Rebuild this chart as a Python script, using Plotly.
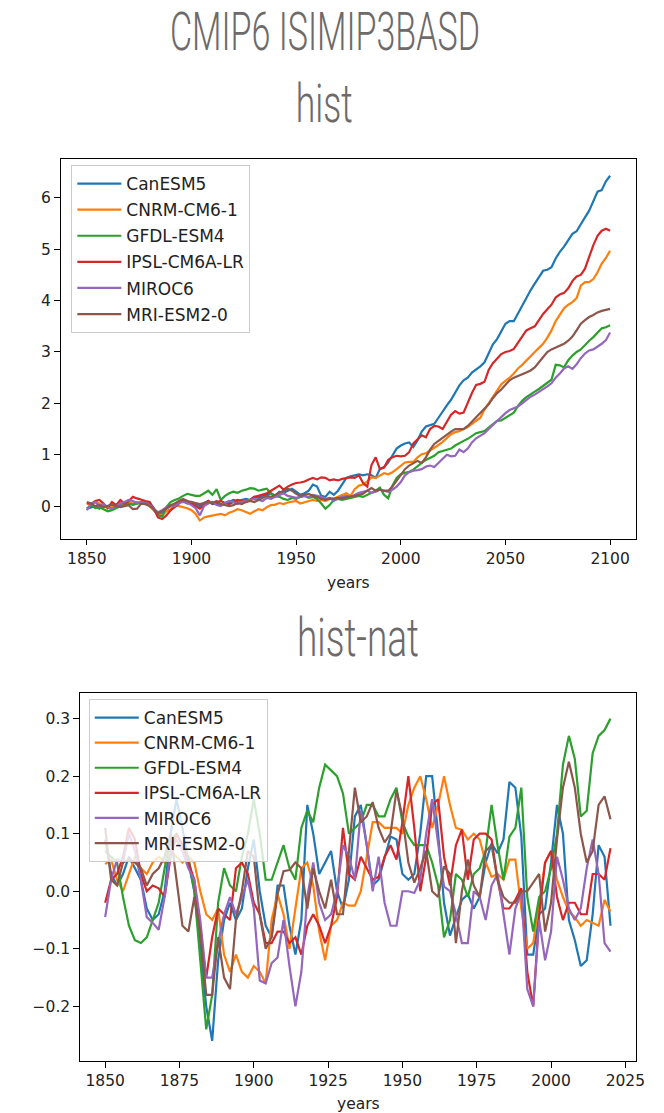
import plotly.graph_objects as go

# ---------------------------------------------------------------------------
# Data: global mean temperature anomaly per model (2-year sampling)
# ---------------------------------------------------------------------------
MODELS = ["CanESM5", "CNRM-CM6-1", "GFDL-ESM4", "IPSL-CM6A-LR", "MIROC6", "MRI-ESM2-0"]
COLORS = ["#1f77b4", "#ff7f0e", "#2ca02c", "#d62728", "#9467bd", "#8c564b"]

hist_years = list(range(1850, 2101, 2))

hist_canesm5 = [
    -0.05, -0.02, 0.0, -0.05, 0.02,
    -0.02, -0.06, -0.03, 0.02, 0.05,
    0.06, 0.03, 0.06, 0.08, 0.06,
    0.02, -0.08, -0.16, -0.12, -0.05,
    0.0, 0.04, 0.08, 0.1, 0.05,
    0.08, 0.04, 0.0, 0.06, 0.1,
    0.04, 0.05, 0.02, 0.06, 0.08,
    0.12, 0.1, 0.12, 0.14, 0.12,
    0.18, 0.16, 0.2, 0.22, 0.25,
    0.2, 0.28, 0.26, 0.3, 0.34,
    0.28, 0.22, 0.25, 0.3, 0.42,
    0.38, 0.2, 0.18, 0.28, 0.22,
    0.3, 0.42, 0.55, 0.58, 0.6,
    0.62, 0.6, 0.62, 0.6, 0.55,
    0.72, 0.76, 0.85, 1.0, 1.12,
    1.18, 1.22, 1.24, 1.15, 1.28,
    1.45, 1.55, 1.58, 1.6, 1.72,
    1.85, 1.96, 2.07, 2.2, 2.35,
    2.45, 2.5, 2.6, 2.66, 2.72,
    2.8, 2.98, 3.15, 3.25, 3.4,
    3.55, 3.6, 3.6, 3.75, 3.9,
    4.07, 4.2, 4.33, 4.45, 4.58,
    4.6, 4.65, 4.82, 4.95, 5.05,
    5.18, 5.3, 5.35, 5.5, 5.62,
    5.75, 5.95, 6.12, 6.15, 6.32,
    6.43,
]
hist_cnrm = [
    0.05, 0.02, 0.08, 0.05, 0.0,
    -0.04, -0.02, 0.03, 0.06, 0.04,
    0.08, 0.05, 0.08, 0.05, 0.04,
    0.0, -0.08, -0.15, -0.18, -0.1,
    -0.06, 0.02, 0.0, -0.02, -0.04,
    -0.08, -0.15, -0.28, -0.22, -0.2,
    -0.18, -0.17, -0.15, -0.18, -0.13,
    -0.1, -0.06, -0.08, -0.12, -0.15,
    -0.1, -0.06, -0.08, -0.02, 0.02,
    0.03, 0.06, 0.04, 0.07, 0.08,
    0.1, 0.05, 0.08, 0.1, 0.12,
    0.1, 0.12, 0.1, 0.14, 0.15,
    0.18, 0.22, 0.25, 0.2, 0.33,
    0.4, 0.42, 0.48, 0.56, 0.55,
    0.6, 0.64, 0.62, 0.66, 0.72,
    0.78, 0.85, 0.86, 0.86, 0.95,
    1.01, 1.03, 1.08, 1.14, 1.19,
    1.25, 1.33, 1.4, 1.44, 1.46,
    1.5, 1.54, 1.6, 1.66, 1.72,
    1.88, 2.0, 2.14, 2.26, 2.37,
    2.44, 2.5, 2.58, 2.68, 2.75,
    2.84, 2.92, 3.0, 3.08, 3.16,
    3.28, 3.42, 3.6, 3.72, 3.85,
    3.92, 3.97, 4.05, 4.29, 4.36,
    4.36, 4.42, 4.55, 4.72, 4.83,
    4.97,
]
hist_gfdl = [
    -0.05, 0.02, -0.04, -0.02, -0.06,
    -0.1, -0.08, -0.04, 0.0, 0.02,
    0.05, 0.03, 0.05, 0.06, 0.08,
    0.05, -0.04, -0.18, -0.2, -0.02,
    0.08, 0.12, 0.15, 0.2, 0.24,
    0.22, 0.2, 0.2, 0.25, 0.3,
    0.22, 0.33, 0.12, 0.2, 0.25,
    0.28, 0.26, 0.3, 0.32, 0.35,
    0.34, 0.3, 0.32, 0.34, 0.24,
    0.2, 0.18, 0.14, 0.12, 0.16,
    0.14, 0.18, 0.2, 0.16, 0.18,
    0.14, 0.05, -0.05, 0.02, 0.12,
    0.14, 0.12, 0.14, 0.16, 0.18,
    0.2, 0.18, 0.22, 0.25, 0.3,
    0.36, 0.22, 0.15, 0.4, 0.55,
    0.62, 0.65, 0.67, 0.71, 0.78,
    0.84, 0.9, 0.94, 0.98, 1.05,
    1.07, 1.09, 1.12, 1.18, 1.23,
    1.27, 1.31, 1.36, 1.42, 1.44,
    1.46, 1.53, 1.6, 1.66, 1.67,
    1.72, 1.77, 1.82, 1.95, 2.05,
    2.12, 2.18, 2.23, 2.28, 2.34,
    2.4, 2.46, 2.75, 2.74, 2.7,
    2.84, 2.93, 3.0, 3.05, 3.14,
    3.22, 3.29, 3.37, 3.46, 3.48,
    3.52,
]
hist_ipsl = [
    0.06, 0.04, 0.1, 0.12, 0.05,
    -0.04, 0.08, 0.02, 0.12, 0.05,
    0.1, 0.18, 0.15, 0.12, 0.1,
    0.08, -0.05, -0.22, -0.25, -0.18,
    -0.08, -0.02, 0.05, 0.12, 0.1,
    0.05, 0.0, -0.05, 0.02, 0.1,
    0.05, 0.08, 0.1, 0.06, 0.04,
    0.08, 0.12, 0.1, 0.08, 0.12,
    0.18, 0.2, 0.22, 0.25, 0.3,
    0.35, 0.4, 0.32, 0.38, 0.42,
    0.45, 0.46, 0.48, 0.52, 0.55,
    0.52, 0.56, 0.55, 0.5, 0.52,
    0.5, 0.53, 0.55, 0.56, 0.55,
    0.6, 0.45, 0.38, 0.8, 0.95,
    0.72, 0.75, 0.9, 0.95, 0.98,
    0.97, 0.98, 1.05, 1.22, 1.3,
    1.38, 1.34, 1.5, 1.56, 1.55,
    1.5, 1.65, 1.78, 1.85, 1.8,
    1.82, 2.02, 2.2, 2.36, 2.38,
    2.42, 2.65, 2.78, 2.88, 2.96,
    3.0, 3.02, 3.06, 3.18, 3.3,
    3.42, 3.46, 3.5, 3.62, 3.74,
    3.83, 3.92, 4.06, 4.12, 4.15,
    4.24, 4.38, 4.47, 4.5, 4.62,
    4.85, 5.08, 5.26, 5.36, 5.4,
    5.36,
]
hist_miroc6 = [
    -0.08, 0.05, 0.08, 0.0, 0.04,
    -0.02, -0.05, 0.0, 0.05, 0.08,
    0.12, 0.1, 0.06, 0.08, 0.06,
    0.02, -0.05, -0.12, -0.08, -0.02,
    0.02, 0.0, 0.06, 0.08, 0.06,
    0.02, -0.04, -0.18, 0.0, 0.05,
    0.08, 0.02, 0.0, 0.06, 0.1,
    0.08, 0.04, 0.08, 0.1, 0.12,
    0.14, 0.12, 0.1, 0.16, 0.14,
    0.18, 0.22, 0.25, 0.2, 0.18,
    0.16, 0.18, 0.2, 0.18, 0.22,
    0.2, 0.18, 0.14, 0.16, 0.1,
    0.15, 0.18, 0.2, 0.18, 0.22,
    0.26, 0.28, 0.3, 0.26, 0.28,
    0.32, 0.3, 0.28, 0.32, 0.38,
    0.47, 0.6, 0.66, 0.69, 0.7,
    0.72, 0.77, 0.79, 0.76, 0.84,
    0.92, 1.0, 0.97, 0.98, 1.1,
    1.05, 1.12, 1.24, 1.32, 1.37,
    1.42, 1.5, 1.58, 1.66, 1.73,
    1.81, 1.87, 1.9, 1.94, 2.0,
    2.06, 2.13, 2.17, 2.22, 2.28,
    2.33, 2.39, 2.5, 2.58, 2.68,
    2.72, 2.67, 2.76, 2.88, 2.97,
    3.03, 3.05, 3.1, 3.16, 3.23,
    3.38,
]
hist_mri = [
    0.08, 0.05, 0.0, 0.02, -0.02,
    0.0, 0.03, 0.0, -0.02, 0.0,
    0.02, -0.06, -0.05, 0.05, 0.04,
    0.0, -0.06, -0.14, -0.1, -0.05,
    0.02, 0.05, 0.1, 0.14, 0.1,
    0.08, 0.05, 0.04, 0.06, 0.08,
    0.06, 0.1, 0.04, 0.02, 0.0,
    0.02, 0.06, 0.04, 0.08, 0.1,
    0.08, 0.12, 0.16, 0.2, 0.18,
    0.22, 0.25, 0.3, 0.34, 0.3,
    0.24, 0.2, 0.22, 0.24, 0.2,
    0.18, 0.14, 0.12, 0.15, 0.14,
    0.16, 0.15, 0.17, 0.18, 0.2,
    0.22, 0.24, 0.3, 0.35, 0.3,
    0.32, 0.3, 0.3, 0.38, 0.5,
    0.62, 0.72, 0.79, 0.84, 0.88,
    0.84, 0.95, 1.1, 1.21, 1.27,
    1.33, 1.4, 1.45, 1.5, 1.5,
    1.5, 1.56, 1.64, 1.74, 1.82,
    1.88, 1.98, 2.1, 2.2, 2.27,
    2.37, 2.45, 2.5, 2.53, 2.56,
    2.6, 2.64, 2.7, 2.8, 2.9,
    3.0, 3.05, 3.09, 3.12, 3.16,
    3.22, 3.3, 3.42, 3.55, 3.62,
    3.68, 3.72, 3.77, 3.8, 3.82,
    3.84,
]

nat_years = list(range(1850, 2021, 2))

nat_canesm5 = [
    0.09, 0.03, 0.01, 0.03, 0.06,
    0.04, 0.02, -0.03, -0.05, -0.04,
    0.0, 0.1, 0.16, 0.11, 0.05,
    0.0, -0.1, -0.2, -0.26, -0.12,
    -0.05, -0.02, -0.05, -0.03, 0.04,
    0.09, 0.0, -0.06, -0.08, 0.01,
    0.01, -0.06, -0.11, -0.05, 0.15,
    0.1, 0.03, 0.05, 0.07, 0.0,
    -0.03, 0.02, 0.13, 0.15, 0.08,
    0.01, 0.02, 0.06, 0.095, 0.09,
    0.03, 0.02, 0.03, 0.1, 0.2,
    0.2, 0.1, -0.02, -0.077, -0.045,
    -0.015, -0.005, -0.03, -0.01, 0.05,
    0.083, 0.066, 0.09, 0.19, 0.18,
    0.095, -0.11, -0.11, -0.04, -0.03,
    0.05, 0.15, 0.1, -0.05, -0.085,
    -0.13, -0.12, -0.04, 0.08, 0.06,
    -0.06,
]
nat_cnrm = [
    0.047, 0.055, 0.02, 0.0, 0.03,
    0.06, 0.04, 0.03, 0.05, 0.06,
    0.05, 0.07, 0.06, 0.05, 0.06,
    0.05, 0.0, -0.04, -0.05, -0.03,
    -0.11, -0.14, -0.11, -0.14, -0.15,
    -0.13, -0.14, -0.16, -0.05, -0.005,
    -0.04, -0.1, -0.03, 0.04, 0.05,
    0.01, -0.07, -0.12, -0.06, -0.05,
    -0.02, -0.025, -0.025, 0.0, 0.06,
    0.12, 0.12, 0.11, 0.11, 0.11,
    0.1, 0.15, 0.18, 0.2, 0.16,
    0.11, 0.15, 0.2, 0.15, 0.11,
    0.107, 0.09, 0.1, 0.09, 0.05,
    0.025, 0.03, 0.02, 0.055, 0.055,
    -0.03, -0.1, -0.09, -0.02, 0.05,
    0.07, 0.02, -0.01, -0.035, -0.045,
    -0.06, -0.05, -0.055, -0.06, -0.015,
    -0.035,
]
nat_gfdl = [
    0.07, 0.06, 0.05, -0.01, -0.06,
    -0.085, -0.09, -0.08, -0.05, -0.02,
    0.04, 0.09, 0.1, 0.08, 0.06,
    0.0, -0.12, -0.24, -0.18, -0.02,
    0.04, 0.01, 0.0, 0.06, 0.1,
    0.16, 0.1, 0.02, 0.02, 0.05,
    0.08, 0.04, 0.02, 0.11, 0.14,
    0.12, 0.18, 0.22, 0.21, 0.2,
    0.17, 0.1, 0.11, 0.12, 0.15,
    0.15, 0.13, 0.13, 0.16, 0.18,
    0.12, 0.095, 0.08, 0.08, 0.08,
    0.05, 0.01, -0.08, -0.05, 0.03,
    0.02, -0.01, 0.03, 0.04, 0.07,
    0.15, 0.08, 0.02, 0.095, 0.11,
    0.18, -0.01, -0.07, -0.01, 0.0,
    0.04, 0.1, 0.22, 0.27, 0.23,
    0.13, 0.14, 0.24, 0.27, 0.28,
    0.3,
]
nat_ipsl = [
    -0.02, 0.02, 0.03, 0.06, 0.11,
    0.09, 0.03, 0.0, 0.01, 0.005,
    -0.01, 0.06, 0.1, 0.08, 0.05,
    0.02, -0.07, -0.15, -0.08, -0.03,
    -0.04, -0.05, 0.04, 0.05, 0.03,
    -0.02, -0.04, -0.09, -0.09, -0.07,
    -0.07, -0.09, -0.08, -0.11, -0.06,
    -0.04, -0.06, -0.09, -0.06, -0.01,
    0.11, 0.03, 0.02, 0.06, 0.04,
    0.02, 0.025, 0.06, 0.08, 0.055,
    0.12, 0.2, 0.11, 0.0, 0.06,
    0.15, 0.16, 0.06, 0.01, 0.08,
    0.107, 0.02, 0.09, 0.1, 0.1,
    0.09, 0.02, -0.03, -0.03, -0.015,
    0.005, -0.14, -0.2, -0.04, 0.05,
    0.07, -0.01, -0.05, -0.02, -0.02,
    -0.04, -0.04, 0.03, 0.03, 0.02,
    0.075,
]
nat_miroc6 = [
    -0.045, 0.02, 0.055, 0.05, 0.1,
    0.07, 0.02, -0.045, -0.055, -0.067,
    -0.01, 0.07, 0.09, 0.07, 0.04,
    0.02, -0.05, -0.15, -0.15, -0.09,
    -0.04, -0.01, -0.04, -0.01, 0.02,
    -0.03, -0.155, -0.16, -0.125, -0.115,
    -0.05, -0.13, -0.2, -0.14, -0.01,
    0.05, -0.02, -0.05, -0.04, 0.0,
    0.08, 0.06, 0.02, 0.14, 0.08,
    0.0, 0.06, -0.02, -0.06, -0.06,
    0.0, 0.0, -0.003, 0.02, 0.1,
    0.16, 0.08, 0.008, 0.0, -0.04,
    -0.09, -0.09, 0.0, -0.01, -0.05,
    0.01, 0.03, -0.04, -0.11, -0.03,
    -0.003, -0.17, -0.2, -0.05, -0.12,
    -0.07, 0.06, 0.02, -0.03, -0.05,
    -0.03, 0.04, 0.09, 0.03, -0.09,
    -0.105,
]
nat_mri = [
    0.11, 0.02, 0.01, 0.05, 0.055,
    0.05, 0.04, 0.01, 0.03, 0.04,
    0.06, 0.1, 0.02, -0.06, -0.07,
    -0.01, -0.07, -0.18, -0.18, -0.08,
    -0.15, -0.17, -0.05, 0.0, 0.07,
    0.06, -0.04, -0.1, -0.08, -0.005,
    0.035, 0.037, 0.05, 0.04, -0.03,
    0.04, 0.0, -0.03, 0.02, -0.04,
    -0.04, 0.07, 0.18, 0.12, 0.13,
    0.155, 0.11, 0.085, 0.1, 0.175,
    0.13, 0.05, 0.015, 0.04, 0.07,
    0.0, -0.01, 0.043, 0.03, -0.09,
    0.0, 0.055, 0.01, -0.01, 0.07,
    0.08, 0.02, -0.01, -0.02, -0.02,
    0.0, 0.0, 0.015, 0.03, -0.07,
    -0.02, 0.09, 0.18, 0.225, 0.18,
    0.1, 0.05, 0.07, 0.15, 0.165,
    0.125,
]

hist_series = [hist_canesm5, hist_cnrm, hist_gfdl, hist_ipsl, hist_miroc6, hist_mri]
nat_series = [nat_canesm5, nat_cnrm, nat_gfdl, nat_ipsl, nat_miroc6, nat_mri]

# ---------------------------------------------------------------------------
# Figure
# ---------------------------------------------------------------------------
W, H = 664, 1113
TICK_FONT = dict(family="DejaVu Sans", size=15.5, color="#222222")
TITLE_FONT = dict(family="Roboto, Liberation Sans, Arial", size=54, weight=300, color="#6d6a69")

# condensed widths (px) for the heading texts
HEADING_WIDTHS = {"CMIP6 ISIMIP3BASD": 310, "hist": 57, "hist-nat": 122}


def px_x(p):
    return p / W


def px_y(p):
    return (H - p) / H


fig = go.Figure()

for name, color, ys in zip(MODELS, COLORS, hist_series):
    fig.add_trace(go.Scatter(
        x=hist_years, y=ys, mode="lines", name=name,
        line=dict(color=color, width=2.2),
        xaxis="x", yaxis="y", legend="legend", legendgroup="hist_" + name,
    ))

for name, color, ys in zip(MODELS, COLORS, nat_series):
    fig.add_trace(go.Scatter(
        x=nat_years, y=ys, mode="lines", name=name,
        line=dict(color=color, width=2.2),
        xaxis="x2", yaxis="y2", legend="legend2", legendgroup="nat_" + name,
    ))

axis_common = dict(
    showline=True, linecolor="black", linewidth=1.2, mirror=True,
    ticks="outside", ticklen=5.5, tickwidth=1.2, tickcolor="black",
    showgrid=False, zeroline=False, tickfont=TICK_FONT,
)

legend_common = dict(
    xanchor="left", yanchor="top", itemwidth=44,
    bgcolor="rgba(255,255,255,0.8)", bordercolor="#cccccc", borderwidth=1,
    font=dict(family="DejaVu Sans", size=17, color="#222222"),
)


def heading(text, x, y, font):
    return dict(text=text, x=px_x(x), y=px_y(y), xref="paper", yref="paper",
                xanchor="center", yanchor="middle", showarrow=False, font=font)


fig.update_layout(
    width=W, height=H,
    margin=dict(l=0, r=0, t=0, b=0),
    paper_bgcolor="white", plot_bgcolor="white",
    showlegend=True,
    xaxis=dict(domain=[px_x(61.5), px_x(645)], range=[1837.5, 2112.5],
               tickvals=[1850, 1900, 1950, 2000, 2050, 2100], anchor="y", **axis_common),
    yaxis=dict(domain=[px_y(538.5), px_y(159.3)], range=[-0.63, 6.75],
               tickvals=[0, 1, 2, 3, 4, 5, 6], anchor="x", **axis_common),
    xaxis2=dict(domain=[px_x(81), px_x(644.5)], range=[1841.5, 2028.5],
                tickvals=[1850, 1875, 1900, 1925, 1950, 1975, 2000, 2025], anchor="y2",
                **axis_common),
    yaxis2=dict(domain=[px_y(1061), px_y(693.3)], range=[-0.295, 0.344],
                tickvals=[-0.2, -0.1, 0.0, 0.1, 0.2, 0.3], tickformat=".1f", anchor="x2",
                **axis_common),
    legend=dict(x=px_x(72.3), y=px_y(165), tracegroupgap=1, **legend_common),
    legend2=dict(x=px_x(90), y=px_y(699), tracegroupgap=0, **legend_common),
    annotations=[
        heading("CMIP6 ISIMIP3BASD", 329, 31, TITLE_FONT),
        heading("hist", 328.5, 103.3, TITLE_FONT),
        heading("hist-nat", 363, 637.6, TITLE_FONT),
        heading("years", 353, 583, TICK_FONT),
        heading("years", 363, 1104, TICK_FONT),
    ],
)

# squeeze the heading glyphs horizontally (about their centre) to a condensed width
condense_js = """
var gd = document.getElementById('{plot_id}');
var widths = %s;
gd.querySelectorAll('text.annotation-text').forEach(function (t) {
    var w = widths[t.textContent];
    if (!w) { return; }
    var b = t.getBBox();
    var s = w / b.width;
    var cx = b.x + b.width / 2;
    var prev = t.getAttribute('transform') || '';
    t.setAttribute('transform',
        prev + ' translate(' + cx + ',0) scale(' + s + ',1) translate(' + (-cx) + ',0)');
});
""" % str(HEADING_WIDTHS).replace("'", '"')

fig.write_html("out.html", post_script=condense_js)
